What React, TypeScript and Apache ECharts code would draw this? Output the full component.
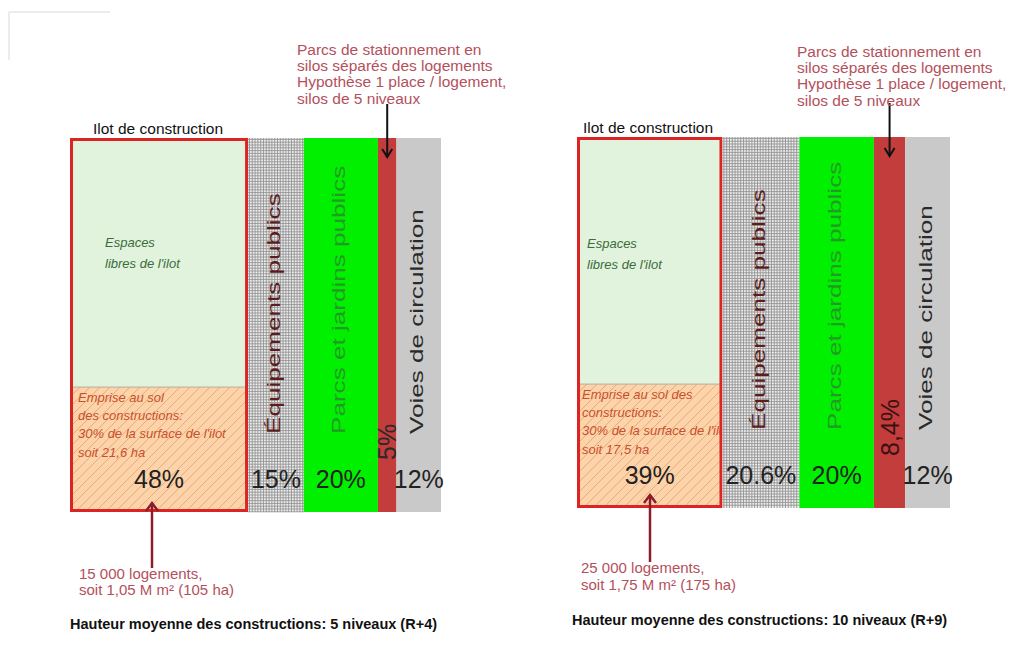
import React, { useEffect, useRef } from "react";
import * as echarts from "echarts";

// ---------- data ----------
const categories = [
  "Ilot de construction",
  "Équipements publics",
  "Parcs et jardins publics",
  "Parcs de stationnement",
  "Voies de circulation",
];
const sharesR4 = [48, 15, 20, 5, 12];
const sharesR9 = [39, 20.6, 20, 8.4, 12];
const labelsR4 = ["48%", "15%", "20%", "5%", "12%"];
const labelsR9 = ["39%", "20.6%", "20%", "8,4%", "12%"];
const footprintHeight = [33.4, 33.4];
const columnNames = ["", "Équipements publics", "Parcs et jardins publics", "", "Voies de circulation"];
const ilotFreeText = ["Espaces", "libres de l'ilot"];
const footprintTextR4 = ["Emprise au sol", "des constructions:", "30% de la surface de l'ilot", "soit 21,6 ha"];
const footprintTextR9 = ["Emprise au sol des", "constructions:", "30% de la surface de l'ilot", "soit 17,5 ha"];
const parkingNote = [
  "Parcs de stationnement en",
  "silos séparés des logements",
  "Hypothèse 1 place / logement,",
  "silos de 5 niveaux",
];
const housingR4 = ["15 000 logements,", "soit 1,05 M m² (105 ha)"];
const housingR9 = ["25 000 logements,", "soit 1,75 M m² (175 ha)"];
const captionR4 = "Hauteur moyenne des constructions: 5 niveaux (R+4)";
const captionR9 = "Hauteur moyenne des constructions: 10 niveaux (R+9)";

// ---------- layout ----------
const FONT = "'Liberation Sans', Arial, sans-serif";
const panels = [
  {
    grid: { left: 70, top: 138, width: 371, height: 374 },
    shares: sharesR4, labels: labelsR4, fpH: footprintHeight[0], fpText: footprintTextR4,
    freeX: 105, freeTop: 231.5, fpX: 78, fpTop: 388,
    ilotLabel: [93, 128], noteX: 297, noteTop: 41,
    arrowX: 152, arrowTip: 503, arrowEnd: 568,
    housing: housingR4, housingX: 79, housingTop: 565, housingLH: 16,
    caption: captionR4, captionX: 70, captionY: 624,
    parkingColor: "#2a2a2a",
  },
  {
    grid: { left: 577, top: 137, width: 373, height: 371 },
    shares: sharesR9, labels: labelsR9, fpH: footprintHeight[1], fpText: footprintTextR9,
    freeX: 587, freeTop: 232.5, fpX: 582, fpTop: 385,
    ilotLabel: [583, 127], noteX: 797, noteTop: 43,
    arrowX: 650, arrowTip: 495, arrowEnd: 562,
    housing: housingR9, housingX: 581, housingTop: 559, housingLH: 17,
    caption: captionR9, captionX: 572, captionY: 620,
    parkingColor: "#3a1212",
  },
];

const colFill = ["#e1f3dd", "#ededed", "#00f000", "#c43d3d", "#c9c9c9"];
const nameColor = ["", "#5c1c1c", "#249a26", "", "#2a2a2a"];

let shapesRegistered = false;
function registerShapes() {
  if (shapesRegistered) return;
  shapesRegistered = true;
  echarts.graphic.registerShape(
    "hatchFill",
    echarts.graphic.extendShape({
      shape: { x: 0, y: 0, width: 0, height: 0, step: 10 },
      buildPath(ctx: any, sh: any) {
        const x0 = sh.x, y0 = sh.y, x1 = sh.x + sh.width, y1 = sh.y + sh.height;
        for (let c = x0 + y0 + sh.step; c < x1 + y1; c += sh.step) {
          const ya = Math.min(y1, c - x0);
          const xa = c - ya;
          const yb = Math.max(y0, c - x1);
          const xb = c - yb;
          ctx.moveTo(xa, ya);
          ctx.lineTo(xb, yb);
        }
      },
    })
  );
  echarts.graphic.registerShape(
    "meshFill",
    echarts.graphic.extendShape({
      shape: { x: 0, y: 0, width: 0, height: 0, pitch: 3 },
      buildPath(ctx: any, sh: any) {
        for (let gx = sh.x + sh.pitch / 2; gx < sh.x + sh.width; gx += sh.pitch) {
          ctx.moveTo(gx, sh.y);
          ctx.lineTo(gx, sh.y + sh.height);
        }
        for (let gy = sh.y + sh.pitch / 2; gy < sh.y + sh.height; gy += sh.pitch) {
          ctx.moveTo(sh.x, gy);
          ctx.lineTo(sh.x + sh.width, gy);
        }
      },
    })
  );
}

function buildRows(shares: number[]) {
  let acc = 0;
  return shares.map((v, i) => {
    const row = [acc, acc + v, i];
    acc += v;
    return row;
  });
}

function makeRenderItem(panel: any) {
  return (params: any, api: any) => {
    const s = api.value(0), e = api.value(1), idx = api.value(2);
    const tl = api.coord([s, 100]);
    const br = api.coord([e, 0]);
    const x = tl[0], y = tl[1], w = br[0] - tl[0], h = br[1] - tl[1];
    const bottom = br[1];
    const cx = x + w / 2;
    const children: any[] = [];
    const label = panel.labels[idx];
    if (idx === 0) {
      const splitY = api.coord([s, panel.fpH])[1];
      children.push({ type: "rect", shape: { x, y, width: w, height: splitY - y }, style: { fill: colFill[0] } });
      children.push({ type: "rect", shape: { x, y: splitY, width: w, height: bottom - splitY }, style: { fill: "#fdd4aa" } });
      children.push({
        type: "hatchFill",
        shape: { x, y: splitY, width: w, height: bottom - splitY, step: 10 },
        style: { fill: "none", stroke: "#e8a97a", lineWidth: 1 },
      });
      children.push({ type: "line", shape: { x1: x, y1: splitY, x2: x + w, y2: splitY }, style: { stroke: "#b8ad9c", lineWidth: 1 } });
      children.push({
        type: "text", x: panel.freeX, y: panel.freeTop,
        style: { text: ilotFreeText.join("\n"), fontSize: 13, fontStyle: "italic", fontFamily: FONT, fill: "#3b6b3b", lineHeight: 21, align: "left", verticalAlign: "top" },
      });
      children.push({
        type: "text", x: panel.fpX, y: panel.fpTop,
        style: { text: panel.fpText.join("\n"), fontSize: 13, fontStyle: "italic", fontFamily: FONT, fill: "#c8502e", lineHeight: 18.3, align: "left", verticalAlign: "top" },
      });
      children.push({
        type: "text", x: cx, y: bottom - 33,
        style: { text: label, fontSize: 25, fontFamily: FONT, fill: "#222", align: "center", verticalAlign: "middle" },
      });
      children.push({
        type: "rect", shape: { x: x + 1.5, y: y + 1.5, width: w - 3, height: h - 3 },
        style: { fill: "none", stroke: "#dc2424", lineWidth: 3 },
      });
    } else {
      children.push({ type: "rect", shape: { x, y, width: w, height: h }, style: { fill: colFill[idx] } });
      if (idx === 1) {
        children.push({
          type: "meshFill",
          shape: { x, y, width: w, height: h, pitch: 2.8 },
          style: { fill: "none", stroke: "#909090", lineWidth: 0.85 },
        });
      }
      if (idx === 3) {
        children.push({
          type: "text", x: cx, y: bottom - 52, rotation: Math.PI / 2,
          style: { text: label, fontSize: 25, fontFamily: FONT, fill: panel.parkingColor, align: "left", verticalAlign: "middle" },
        });
        children.push({ type: "line", shape: { x1: cx, y1: y - 34, x2: cx, y2: y + 19 }, style: { stroke: "#111", lineWidth: 2 } });
        children.push({
          type: "polyline", shape: { points: [[cx - 5, y + 11], [cx, y + 19], [cx + 5, y + 11]] },
          style: { stroke: "#111", lineWidth: 2, fill: "none" },
        });
      } else {
        children.push({
          type: "text", x: cx - 2, y: bottom - 78, rotation: Math.PI / 2, scaleX: 1.45,
          style: { text: columnNames[idx], fontSize: 18, fontFamily: FONT, fill: nameColor[idx], align: "left", verticalAlign: "middle" },
        });
        children.push({
          type: "text", x: cx, y: bottom - 33,
          style: { text: label, fontSize: 25, fontFamily: FONT, fill: "#222", align: "center", verticalAlign: "middle" },
        });
      }
    }
    return { type: "group", children };
  };
}

function buildGraphic() {
  const els: any[] = [
    { type: "line", z: 10, shape: { x1: 9, y1: 12, x2: 110, y2: 12 }, style: { stroke: "#ececec", lineWidth: 2 } },
    { type: "line", z: 10, shape: { x1: 9, y1: 12, x2: 9, y2: 60 }, style: { stroke: "#ececec", lineWidth: 2 } },
  ];
  panels.forEach((p) => {
    els.push({
      type: "text", z: 10, x: p.ilotLabel[0], y: p.ilotLabel[1],
      style: { text: categories[0], fontSize: 15.5, fontFamily: FONT, fill: "#111", align: "left", verticalAlign: "middle" },
    });
    els.push({
      type: "text", z: 10, x: p.noteX, y: p.noteTop,
      style: { text: parkingNote.join("\n"), fontSize: 15.5, lineHeight: 16.3, fontFamily: FONT, fill: "#b4505c", align: "left", verticalAlign: "top" },
    });
    els.push({ type: "line", z: 10, shape: { x1: p.arrowX, y1: p.arrowTip, x2: p.arrowX, y2: p.arrowEnd }, style: { stroke: "#8b1d2e", lineWidth: 2.5 } });
    els.push({
      type: "polyline", z: 10,
      shape: { points: [[p.arrowX - 6, p.arrowTip + 8], [p.arrowX, p.arrowTip], [p.arrowX + 6, p.arrowTip + 8]] },
      style: { stroke: "#8b1d2e", lineWidth: 2.5, fill: "none" },
    });
    els.push({
      type: "text", z: 10, x: p.housingX, y: p.housingTop,
      style: { text: p.housing.join("\n"), fontSize: 15, lineHeight: p.housingLH, fontFamily: FONT, fill: "#b4505c", align: "left", verticalAlign: "top" },
    });
    els.push({
      type: "text", z: 10, x: p.captionX, y: p.captionY,
      style: { text: p.caption, fontSize: 14.5, fontWeight: "bold", fontFamily: FONT, fill: "#111", align: "left", verticalAlign: "middle" },
    });
  });
  return els;
}

export default function App() {
  const ref = useRef<HTMLDivElement>(null);
  useEffect(() => {
    if (!ref.current) return;
    registerShapes();
    const chart = echarts.init(ref.current, undefined, { renderer: "svg" });
    chart.setOption({
      animation: false,
      backgroundColor: "#ffffff",
      grid: panels.map((p) => ({ ...p.grid, containLabel: false })),
      xAxis: panels.map((p, i) => ({ type: "value", gridIndex: i, min: 0, max: 100, show: false })),
      yAxis: panels.map((p, i) => ({ type: "value", gridIndex: i, min: 0, max: 100, show: false })),
      series: panels.map((p, i) => ({
        type: "custom",
        name: i === 0 ? "R+4" : "R+9",
        xAxisIndex: i,
        yAxisIndex: i,
        silent: true,
        clip: false,
        renderItem: makeRenderItem(p),
        encode: { x: [0, 1] },
        data: buildRows(p.shares),
      })),
      graphic: { elements: buildGraphic() },
    });
    return () => chart.dispose();
  }, []);
  return (
    <div
      ref={ref}
      style={{ position: "fixed", left: 0, top: 0, width: 1010, height: 649, background: "#fff" }}
    />
  );
}
